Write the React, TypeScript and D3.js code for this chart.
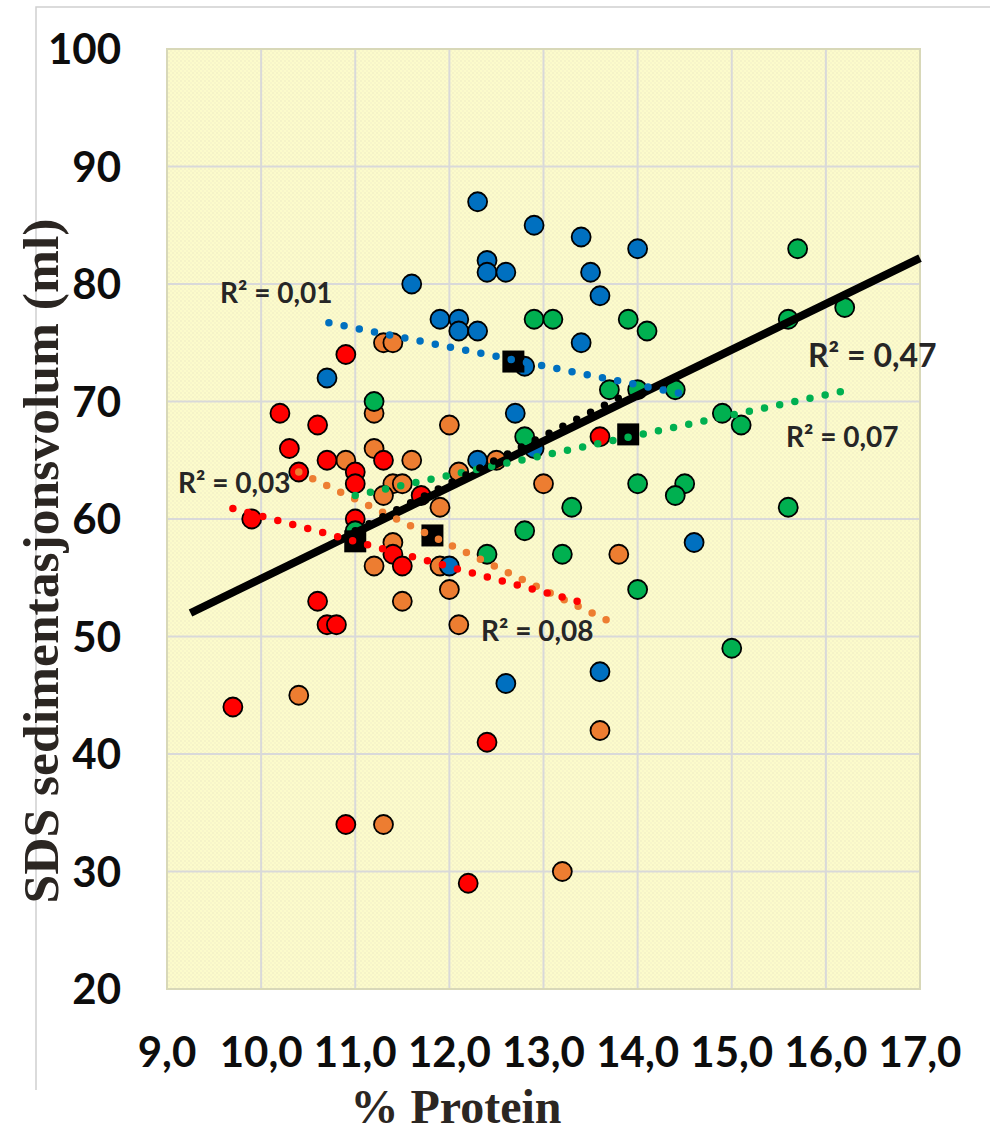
import React from "react";
import * as d3 from "d3";

const xTicks = [9, 10, 11, 12, 13, 14, 15, 16, 17];
const yTicks = [20, 30, 40, 50, 60, 70, 80, 90, 100];

const blueX = [12.3, 12.9, 13.4, 14.0, 12.4, 12.4, 12.6, 13.5, 11.6, 13.6, 11.9, 12.1, 12.1, 12.3, 10.7, 13.4, 12.8, 12.7, 12.9, 12.3, 12.0, 14.6, 12.6, 13.6];
const blueY = [87, 85, 84, 83, 82, 81, 81, 81, 80, 79, 77, 77, 76, 76, 72, 75, 73, 69, 66, 65, 56, 58, 46, 47];

const redX = [10.9, 10.2, 10.6, 10.3, 10.7, 11.0, 11.0, 11.3, 10.4, 9.9, 11.0, 11.7, 11.4, 11.5, 10.6, 10.7, 10.8, 9.7, 10.9, 12.2, 12.4, 13.6];
const redY = [74, 69, 68, 66, 65, 64, 63, 65, 64, 60, 60, 62, 57, 56, 53, 51, 51, 44, 34, 29, 41, 67];

const orangeX = [11.3, 11.4, 11.2, 12.0, 11.2, 10.9, 11.6, 11.4, 11.5, 11.3, 11.9, 12.1, 11.4, 11.2, 11.9, 12.0, 11.5, 12.1, 10.4, 11.3, 13.6, 13.8, 13.0, 12.5, 13.2];
const orangeY = [75, 75, 69, 68, 66, 65, 65, 63, 63, 62, 61, 64, 58, 56, 56, 54, 53, 51, 45, 34, 42, 57, 63, 65, 30];

const greenX = [11.2, 11.0, 12.4, 12.9, 13.1, 13.9, 14.1, 13.7, 14.0, 14.4, 12.8, 15.7, 16.2, 15.6, 14.9, 15.1, 14.0, 14.5, 14.4, 15.6, 13.3, 12.8, 13.2, 14.0, 15.0];
const greenY = [70, 59, 57, 77, 77, 77, 76, 71, 71, 71, 67, 83, 78, 77, 69, 68, 63, 63, 62, 61, 61, 59, 57, 54, 49];

const meanX = [11.0, 11.82, 12.68, 13.9];
const meanY = [58.1, 58.6, 73.4, 67.2];

const blueTrend = [[10.72, 76.7], [14.54, 70.55]];
const redTrend = [[9.7, 60.9], [13.5, 52.7]];
const orangeTrend = [[10.4, 64.0], [13.8, 50.9]];
const greenTrend = [[11.0, 62.0], [16.2, 70.9]];
const meanTrend = [[11.0, 59.0], [13.9, 70.7]];
const allTrend = [[9.25, 52.0], [17.0, 82.2]];

const BLUE = "#0070c0";
const RED = "#ff0000";
const ORANGE = "#ed7d31";
const GREEN = "#00b050";

const labels = [
  { text: "R² = 0,01", x: 220, y: 303, size: 28 },
  { text: "R² = 0,03", x: 178, y: 493, size: 28 },
  { text: "R² = 0,08", x: 481, y: 641, size: 28 },
  { text: "R² = 0,47", x: 808, y: 367, size: 32 },
  { text: "R² = 0,07", x: 786, y: 447, size: 28 },
];

export default function App() {
  const x = d3.scaleLinear().domain([9, 17]).range([167, 920]);
  const y = d3.scaleLinear().domain([20, 100]).range([989, 49]);
  const line = d3
    .line<number[]>()
    .x((d) => x(d[0]))
    .y((d) => y(d[1]));

  const series = [
    { xs: orangeX, ys: orangeY, c: ORANGE },
    { xs: redX, ys: redY, c: RED },
    { xs: blueX, ys: blueY, c: BLUE },
    { xs: greenX, ys: greenY, c: GREEN },
  ];

  const trends = [
    { d: blueTrend, c: BLUE },
    { d: orangeTrend, c: ORANGE },
    { d: redTrend, c: RED },
    { d: greenTrend, c: GREEN },
    { d: meanTrend, c: "#000" },
  ];

  const font = "Lato, Calibri, 'Open Sans', sans-serif";
  const serif = "'Liberation Serif', 'Times New Roman', serif";
  const [x0, x1] = x.range();
  const [y0, y1] = y.range();

  return (
    <svg
      width={990}
      height={1135}
      style={{ position: "absolute", left: 0, top: 0, background: "#fff" }}
    >
      <defs>
        <pattern id="dots" width="4" height="4" patternUnits="userSpaceOnUse">
          <rect width="4" height="4" fill="#fcfbcb" />
          <circle cx="1" cy="1" r="0.7" fill="#e9e7c4" />
          <circle cx="3" cy="3" r="0.7" fill="#efedc8" />
        </pattern>
      </defs>
      <path d="M36,1090 V7 H990" fill="none" stroke="#d0d0d0" strokeWidth={1.5} />
      <rect x={x0} y={y1} width={x1 - x0} height={y0 - y1} fill="url(#dots)" />
      {xTicks.map((t) => (
        <line key={"gx" + t} x1={x(t)} x2={x(t)} y1={y1} y2={y0} stroke="#d9d9d9" strokeWidth={2} />
      ))}
      {yTicks.map((t) => (
        <line key={"gy" + t} x1={x0} x2={x1} y1={y(t)} y2={y(t)} stroke="#d9d9d9" strokeWidth={2} />
      ))}
      <rect x={x0} y={y1} width={x1 - x0} height={y0 - y1} fill="none" stroke="#d8d8b8" strokeWidth={2} />

      {yTicks.map((t) => (
        <text
          key={"ty" + t}
          x={121}
          y={y(t) + 15}
          textAnchor="end"
          fontFamily={font}
          fontWeight="bold"
          fontSize={42}
          fill="#0d0d0d"
        >
          {t}
        </text>
      ))}
      {xTicks.map((t) => (
        <text
          key={"tx" + t}
          x={x(t)}
          y={1067}
          textAnchor="middle"
          fontFamily={font}
          fontWeight="bold"
          fontSize={42}
          fill="#0d0d0d"
        >
          {d3.format(".1f")(t).replace(".", ",")}
        </text>
      ))}

      {series.map((s, i) =>
        s.xs.map((vx, j) => (
          <circle
            key={"p" + i + "-" + j}
            cx={x(vx)}
            cy={y(s.ys[j])}
            r={9.5}
            fill={s.c}
            stroke="#000"
            strokeWidth={1.8}
          />
        ))
      )}

      {meanX.map((vx, j) => (
        <rect
          key={"m" + j}
          x={x(vx) - 11}
          y={y(meanY[j]) - 11}
          width={22}
          height={22}
          fill="#000"
        />
      ))}

      <path d={line(allTrend as any) || ""} stroke="#000" strokeWidth={8} fill="none" />

      {trends.map((t, i) => (
        <path
          key={"t" + i}
          d={line(t.d as any) || ""}
          stroke={t.c}
          strokeWidth={7.5}
          strokeLinecap="round"
          strokeDasharray="0 15.5"
          fill="none"
        />
      ))}

      {labels.map((l, i) => (
        <text
          key={"l" + i}
          x={l.x}
          y={l.y}
          fontFamily={font}
          fontWeight="bold"
          fontSize={l.size}
          fill="#262626"
        >
          {l.text}
        </text>
      ))}

      <text
        x={456}
        y={1123}
        textAnchor="middle"
        fontFamily={serif}
        fontWeight="bold"
        fontSize={48}
        fill="#2b2622"
      >
        % Protein
      </text>
      <text
        transform="translate(58,561) rotate(-90)"
        textAnchor="middle"
        fontFamily={serif}
        fontWeight="bold"
        fontSize={50}
        textLength={685}
        lengthAdjust="spacingAndGlyphs"
        fill="#2b2622"
      >
        SDS sedimentasjonsvolum (ml)
      </text>
    </svg>
  );
}
